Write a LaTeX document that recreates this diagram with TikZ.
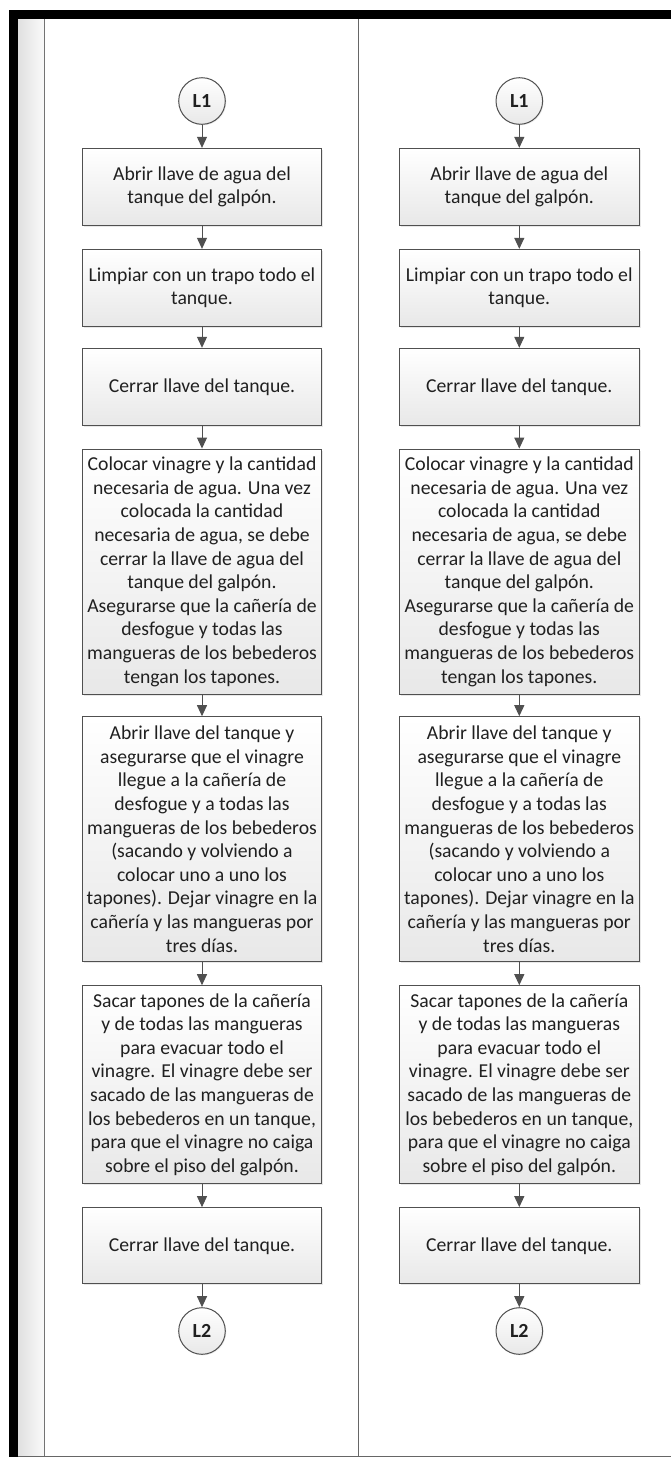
\documentclass[tikz,border=0pt]{standalone}
\usepackage{fontspec}
\setmainfont{Carlito}
\usetikzlibrary{arrows.meta,shadows}
\definecolor{edge}{HTML}{505050}
\definecolor{txt}{HTML}{202020}
\tikzset{
  stepbox/.style={draw=edge, line width=1pt, top color=white, bottom color=black!9,
    minimum width=239.4pt, inner sep=1pt, align=center, text=txt,
    font=\fontsize{19.7}{23.6}\selectfont,
    drop shadow={shadow xshift=1.5pt, shadow yshift=-1.5pt, opacity=0.18}},
  conn/.style={circle, draw=edge, line width=1pt, top color=white, bottom color=black!9,
    minimum size=46.6pt, inner sep=0pt, text=txt, font=\fontsize{20}{22}\selectfont\bfseries,
    drop shadow={shadow xshift=1pt, shadow yshift=-1pt, opacity=0.15}},
  flow/.style={draw=edge, line width=1pt, -{Triangle[length=11pt,width=10pt]}}
}
\begin{document}
\begin{tikzpicture}[x=1pt,y=-1pt]
\useasboundingbox (0,0) rectangle (671,1457);
% frame
\fill[white] (0,0) rectangle (671,1457);
\shade[left color=black!12, right color=black!2] (18,19) rectangle (44.5,1457);
\draw[black!55, line width=0.8pt] (44.5,19) -- (44.5,1457);
\draw[black!60, line width=0.8pt] (358.6,19) -- (358.6,1457);
\draw[black!60, line width=0.8pt] (18,1456) -- (671,1456);
\fill[black] (9.4,10) rectangle (671,19);
\fill[black] (9.4,10) rectangle (18,1457);
\foreach \c/\x in {a/202,b/519.3}{
  \node[conn] (\c0) at (\x,101) {L1};
  \node[stepbox, minimum height=76.7pt] (\c1) at (\x,186.7) {Abrir llave de agua del\\tanque del galpón.};
  \node[stepbox, minimum height=76.7pt] (\c2) at (\x,287.7) {Limpiar con un trapo todo el\\tanque.};
  \node[stepbox, minimum height=77.4pt] (\c3) at (\x,387) {Cerrar llave del tanque.};
  \node[stepbox, minimum height=245.3pt] (\c4) at (\x,571.7) {Colocar vinagre y la cantidad\\necesaria de agua. Una vez\\colocada la cantidad\\necesaria de agua, se debe\\cerrar la llave de agua del\\tanque del galpón.\\Asegurarse que la cañería de\\desfogue y todas las\\mangueras de los bebederos\\tengan los tapones.};
  \node[stepbox, minimum height=245pt] (\c5) at (\x,839.2) {Abrir llave del tanque y\\asegurarse que el vinagre\\llegue a la cañería de\\desfogue y a todas las\\mangueras de los bebederos\\(sacando y volviendo a\\colocar uno a uno los\\tapones). Dejar vinagre en la\\cañería y las mangueras por\\tres días.};
  \node[stepbox, minimum height=197.6pt] (\c6) at (\x,1084.5) {Sacar tapones de la cañería\\y de todas las mangueras\\para evacuar todo el\\vinagre. El vinagre debe ser\\sacado de las mangueras de\\los bebederos en un tanque,\\para que el vinagre no caiga\\sobre el piso del galpón.};
  \node[stepbox, minimum height=76.3pt] (\c7) at (\x,1245.8) {Cerrar llave del tanque.};
  \node[conn] (\c8) at (\x,1331) {L2};
  \draw[flow] (\c0) -- (\c1);
  \draw[flow] (\c1) -- (\c2);
  \draw[flow] (\c2) -- (\c3);
  \draw[flow] (\c3) -- (\c4);
  \draw[flow] (\c4) -- (\c5);
  \draw[flow] (\c5) -- (\c6);
  \draw[flow] (\c6) -- (\c7);
  \draw[flow] (\c7) -- (\c8);
}
\end{tikzpicture}
\end{document}
